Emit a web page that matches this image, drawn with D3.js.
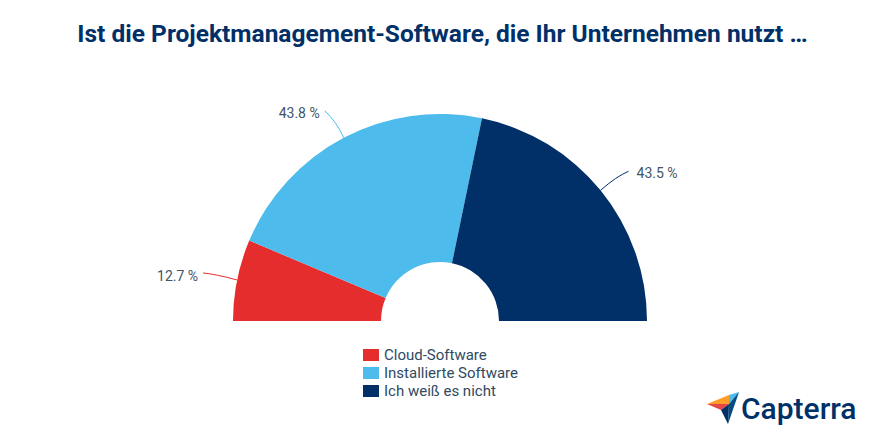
<!DOCTYPE html>
<html><head><meta charset="utf-8">
<script src="https://cdn.jsdelivr.net/npm/d3@7"></script>
<style>
html,body{margin:0;padding:0;background:#fff}
svg{display:block}
text{font-family:Roboto,sans-serif}
</style></head><body>
<svg id="c" width="880" height="440"></svg>
<script>
const titleText = "Ist die Projektmanagement-Software, die Ihr Unternehmen nutzt …";
const categories = ["Cloud-Software", "Installierte Software", "Ich weiß es nicht"];
const values = [12.7, 43.8, 43.5];
const valueLabels = ["12.7 %", "43.8 %", "43.5 %"];
const colors = ["#e52d2d", "#4dbbec", "#003067"];

const svg = d3.select("#c");
const cx = 440, cy = 321, R = 207, r0 = 59;
const ink = "#3f5568";

svg.append("text").attr("x", 442.5).attr("y", 42).attr("text-anchor", "middle")
  .attr("font-size", 24.5).attr("font-weight", 700).attr("fill", "#003067").text(titleText);

const pie = d3.pie().sort(null).value(d => d).startAngle(-Math.PI / 2).endAngle(Math.PI / 2);
const arcs = pie(values);
const arc = d3.arc().innerRadius(r0).outerRadius(R);
const g = svg.append("g").attr("transform", `translate(${cx},${cy})`);

g.selectAll("path.slice").data(arcs).join("path").attr("class", "slice")
  .attr("d", arc).attr("fill", (d, i) => colors[i]);

// leader lines start on the outer rim at each slice's mid angle
const rim = d => { const a = (d.startAngle + d.endAngle) / 2; return [R * Math.sin(a), -R * Math.cos(a)]; };
const leader = [
  {c1:[-22,-6], end:[-34,-7], lx:-39, ly:1, anchor:"end"},
  {c1:[-7,-16], end:[-19,-27], lx:-24, ly:-20, anchor:"end"},
  {c1:[16,-14], end:[28,-19], lx:36, ly:-12, anchor:"start"}
];
g.selectAll("path.leader").data(arcs).join("path").attr("class", "leader")
  .attr("fill", "none").attr("stroke-width", 1).attr("stroke", (d, i) => colors[i])
  .attr("d", (d, i) => {
    const [x, y] = rim(d), l = leader[i];
    return `M${x},${y}Q${x + l.c1[0]},${y + l.c1[1]} ${x + l.end[0]},${y + l.end[1]}`;
  });
g.selectAll("text.val").data(arcs).join("text").attr("class", "val")
  .attr("font-size", 14).attr("fill", ink)
  .attr("text-anchor", (d, i) => leader[i].anchor)
  .attr("x", (d, i) => rim(d)[0] + leader[i].lx)
  .attr("y", (d, i) => rim(d)[1] + leader[i].ly)
  .text((d, i) => valueLabels[i]);

// legend
const ly = d3.scalePoint().domain(categories).range([355, 391]);
const lg = svg.append("g").selectAll("g").data(categories).join("g")
  .attr("transform", d => `translate(363,${ly(d)})`);
lg.append("rect").attr("x", 0).attr("y", -6).attr("width", 16).attr("height", 12)
  .attr("fill", (d, i) => colors[i]);
lg.append("text").attr("x", 21).attr("y", 5).attr("font-size", 15).attr("fill", "#2f4a62").text(d => d);

// Capterra logo
const logo = svg.append("g");
logo.append("path").attr("d", "M707,404 L729,404 L729,395 Z").attr("fill", "#ff9d28");
logo.append("path").attr("d", "M729,395 L739,392 L729,404 Z").attr("fill", "#4dbbec");
logo.append("path").attr("d", "M707,404 L729,404 L721,410 Z").attr("fill", "#e54747");
logo.append("path").attr("d", "M729,404 L739,392 L728,424 Z").attr("fill", "#044d80");
logo.append("path").attr("d", "M729,404 L721,410 L728,424 Z").attr("fill", "#003067");
logo.append("text").attr("x", 741).attr("y", 418.5).attr("font-size", 30).attr("font-weight", 500)
  .attr("fill", "#003067").text("Capterra");
</script>
</body></html>
